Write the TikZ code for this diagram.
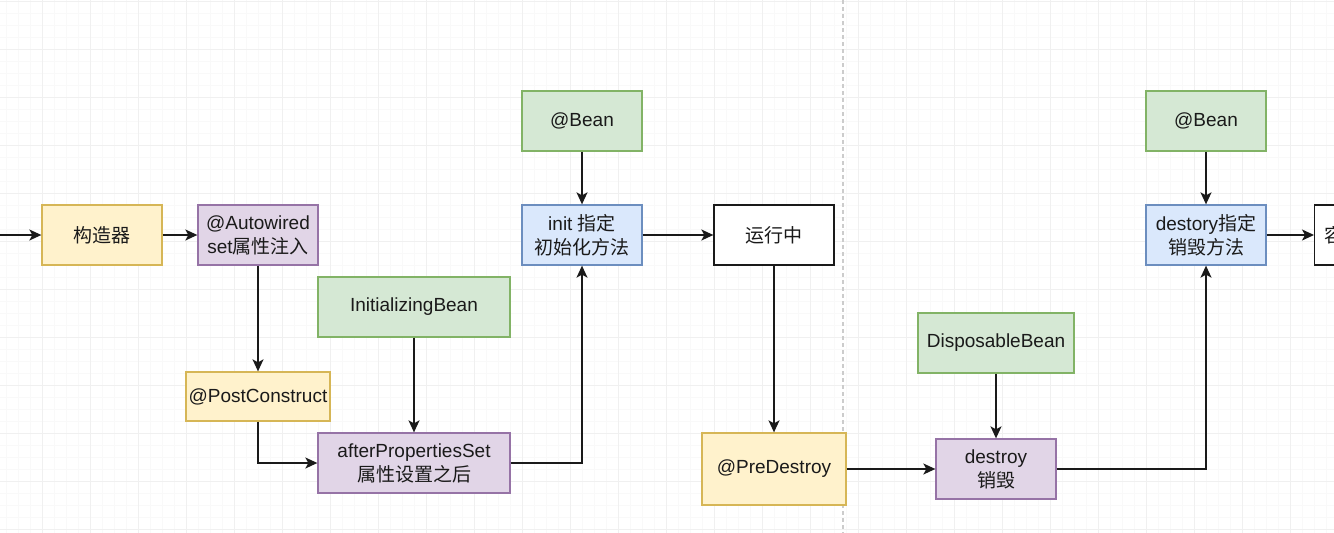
\documentclass[tikz,border=0pt]{standalone}
\usepackage{fontspec}
\setmainfont{Liberation Sans}
\newfontfamily\cjk{Noto Sans CJK SC}
\usetikzlibrary{arrows.meta}

\definecolor{ylwfill}{HTML}{FFF2CC}\definecolor{ylwline}{HTML}{D6B656}
\definecolor{prpfill}{HTML}{E1D5E7}\definecolor{prpline}{HTML}{9673A6}
\definecolor{grnfill}{HTML}{D5E8D4}\definecolor{grnline}{HTML}{82B366}
\definecolor{blufill}{HTML}{DAE8FC}\definecolor{bluline}{HTML}{6C8EBF}
\definecolor{inkc}{HTML}{1A1A1A}
\definecolor{gridminor}{HTML}{F9F9F9}
\definecolor{gridmajor}{HTML}{F0F0F0}

\tikzset{
  box/.style={rectangle, draw, line width=1.3pt, align=center, inner sep=2pt,
    minimum width=120pt, minimum height=60pt, text=inkc,
    font=\fontsize{19}{24}\selectfont},
  ylw/.style={box, fill=ylwfill, draw=ylwline},
  prp/.style={box, fill=prpfill, draw=prpline},
  grn/.style={box, fill=grnfill, draw=grnline},
  blu/.style={box, fill=blufill, draw=bluline},
  plain/.style={box, fill=white, draw=inkc},
  arr/.style={draw=inkc, line width=1.5pt, -{Stealth[length=12pt,width=11pt,inset=3pt]}},
}

\begin{document}
\begin{tikzpicture}[x=1pt,y=-1pt]
\useasboundingbox (0,0) rectangle (1334,533);
\clip (0,0) rectangle (1334,533);
\fill[white] (0,0) rectangle (1334,533);

% background grid
\foreach \gx in {6,18,...,1334} \draw[gridminor, line width=0.8pt] (\gx,0) -- (\gx,533);
\foreach \gy in {1,13,...,533} \draw[gridminor, line width=0.8pt] (0,\gy) -- (1334,\gy);
\foreach \gx in {-6,42,...,1334} \draw[gridmajor, line width=1pt] (\gx,0) -- (\gx,533);
\foreach \gy in {1,49,...,533} \draw[gridmajor, line width=1pt] (0,\gy) -- (1334,\gy);

% page break of the canvas
\draw[gray!40, line width=1.5pt, dash pattern=on 4pt off 3pt] (843,0) -- (843,533);

% creation and initialisation
\coordinate (start) at (0,235);
\node[ylw] (ctor) at (102,235) {\cjk 构造器};
\node[prp] (autow) at (258,235) {@Autowired\\set{\cjk 属性注入}};
\node[ylw, minimum width=144pt, minimum height=49pt] (post) at (258,396.5) {@PostConstruct};
\node[grn, minimum width=192pt] (initb) at (414,307) {InitializingBean};
\node[prp, minimum width=192pt] (aps) at (414,463) {afterPropertiesSet\\{\cjk 属性设置之后}};
\node[grn] (bean1) at (582,121) {@Bean};
\node[blu] (init) at (582,235) {init {\cjk 指定}\\{\cjk 初始化方法}};
\node[plain] (run) at (774,235) {\cjk 运行中};

% destruction
\node[ylw, minimum width=144pt, minimum height=72pt] (pre) at (774,469) {@PreDestroy};
\node[grn, minimum width=156pt] (disp) at (996,343) {DisposableBean};
\node[prp] (destroy) at (996,469) {destroy\\{\cjk 销毁}};
\node[grn] (bean2) at (1206,121) {@Bean};
\node[blu] (dest) at (1206,235) {destory{\cjk 指定}\\{\cjk 销毁方法}};
\node[plain, anchor=west, text width=100pt, inner xsep=10pt, align=left] (close) at (1314,235) {\cjk 容};

% connectors
\draw[arr] (start) -- (ctor);
\draw[arr] (ctor) -- (autow);
\draw[arr] (autow) -- (post);
\draw[arr] (post.south) |- (aps.west);
\draw[arr] (initb) -- (aps);
\draw[arr] (aps.east) -| (init.south);
\draw[arr] (bean1) -- (init);
\draw[arr] (init) -- (run);
\draw[arr] (run) -- (pre);
\draw[arr] (pre) -- (destroy);
\draw[arr] (disp) -- (destroy);
\draw[arr] (destroy.east) -| (dest.south);
\draw[arr] (bean2) -- (dest);
\draw[arr] (dest) -- (close);
\end{tikzpicture}
\end{document}
